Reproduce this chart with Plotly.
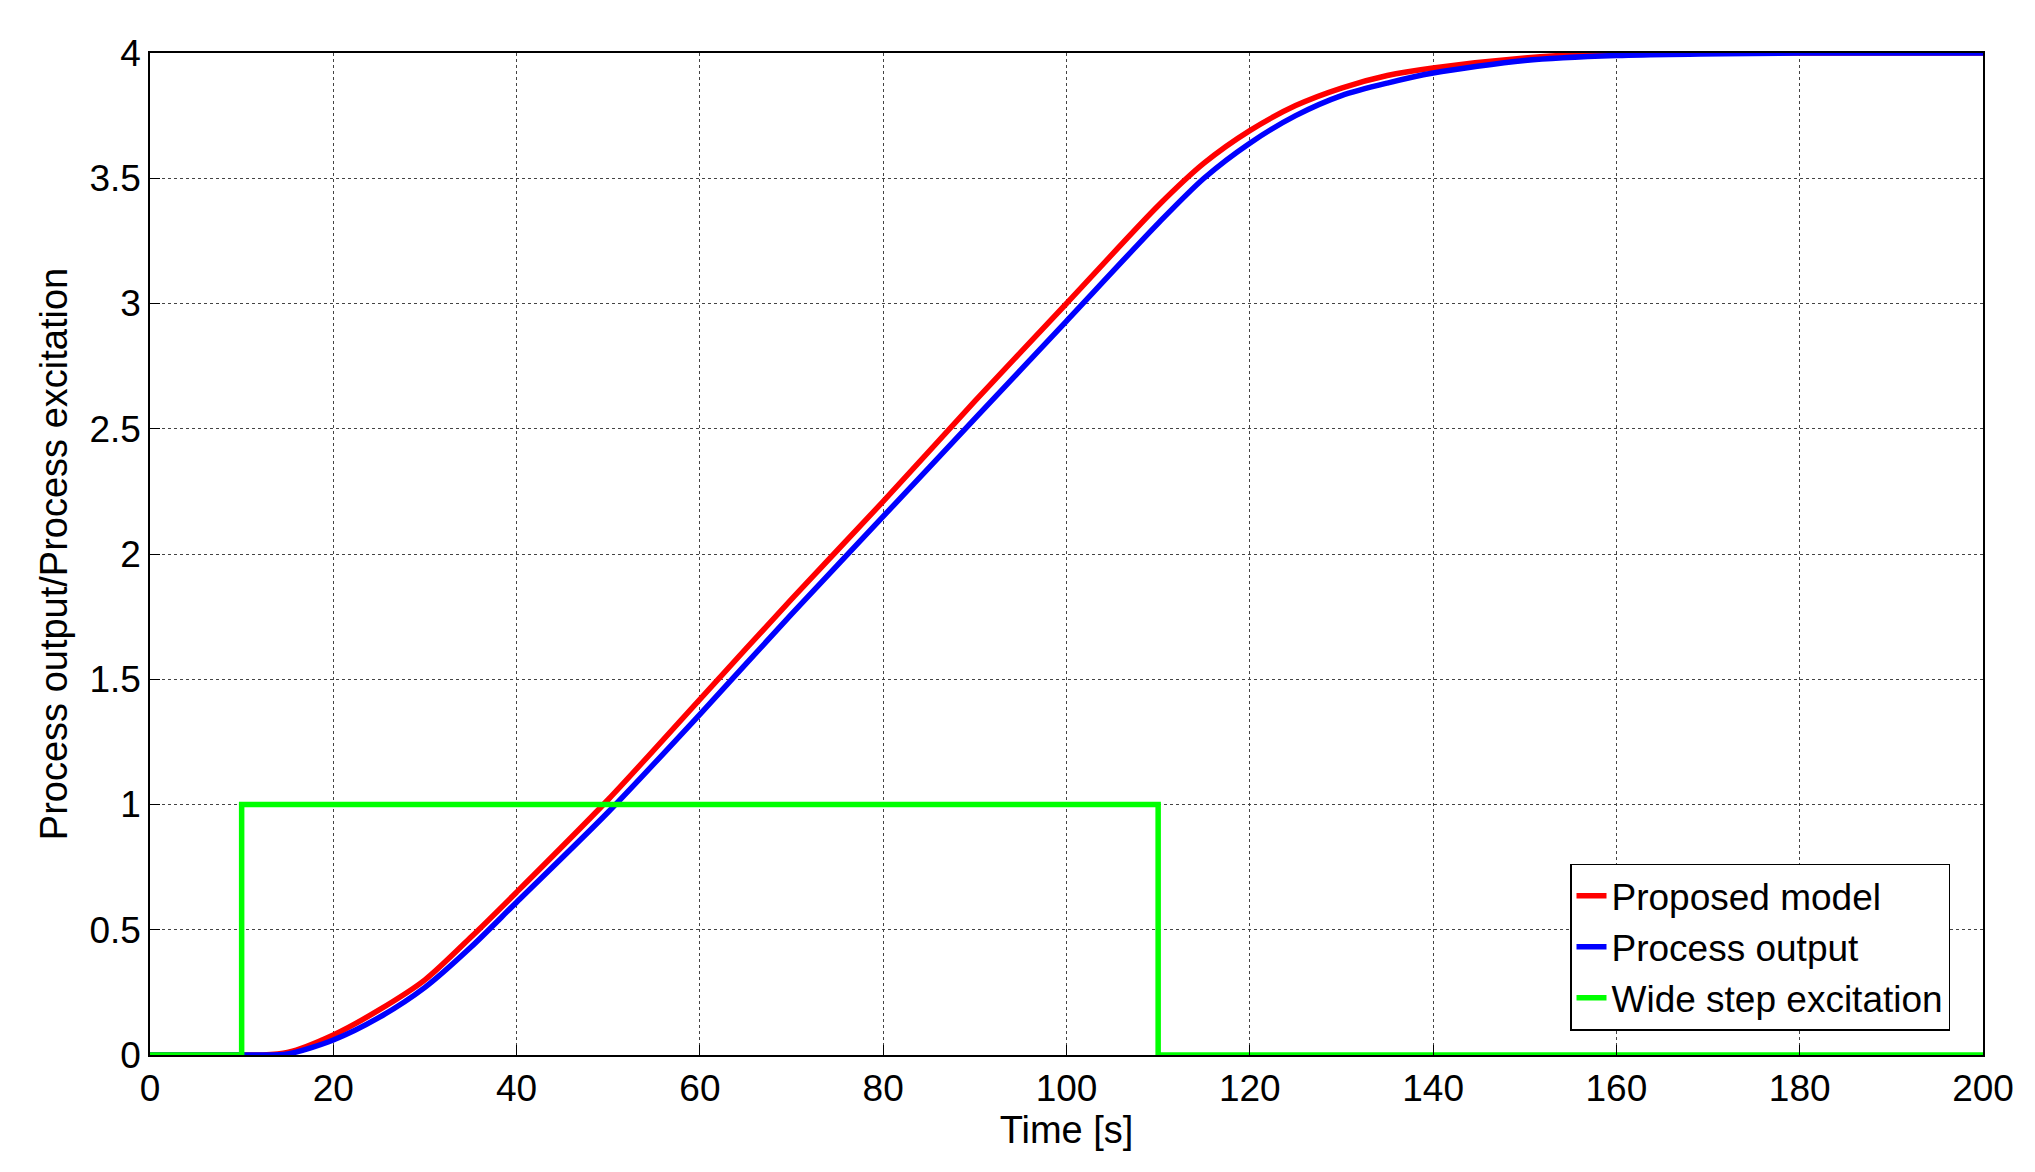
import plotly.graph_objects as go

t = [0, 10, 12, 15, 20, 25, 30, 35, 40, 50, 60, 70, 80, 90, 100, 110, 115, 120, 125, 130, 135, 140, 150, 160, 180, 200]
model = [0, 0, 0.0, 0.01, 0.08, 0.18, 0.30, 0.47, 0.65, 1.02, 1.42, 1.82, 2.21, 2.61, 3.00, 3.39, 3.56, 3.69, 3.79, 3.86, 3.91, 3.94, 3.98, 4.0, 4.0, 4.0]
process = [0, 0, 0.0, 0.004, 0.06, 0.15, 0.27, 0.43, 0.61, 0.97, 1.36, 1.76, 2.15, 2.54, 2.93, 3.32, 3.50, 3.64, 3.75, 3.83, 3.88, 3.92, 3.97, 3.99, 4.0, 4.0]
step_t = [0, 10, 10, 110, 110, 200]
step_v = [0, 0, 1, 1, 0, 0]

fig = go.Figure()
fig.add_trace(go.Scatter(x=t, y=model, mode="lines", name="Proposed model",
                         line=dict(color="#ff0000", width=5.5, shape="spline", smoothing=0.8)))
fig.add_trace(go.Scatter(x=t, y=process, mode="lines", name="Process output",
                         line=dict(color="#0000ff", width=5.5, shape="spline", smoothing=0.8)))
fig.add_trace(go.Scatter(x=step_t, y=step_v, mode="lines", name="Wide step excitation",
                         line=dict(color="#00ff00", width=5.5)))

axis = dict(showline=True, linecolor="black", linewidth=1.5, mirror=True, ticks="inside",
            ticklen=10, tickcolor="black", showgrid=True, gridcolor="#444",
            griddash="dot", gridwidth=1, zeroline=False,
            tickfont=dict(size=37, color="black"))
fig.update_layout(
    width=2035, height=1172, paper_bgcolor="white", plot_bgcolor="white",
    font=dict(family="Liberation Sans, Arial", color="black"),
    margin=dict(l=142, r=60, t=45, b=125),
    xaxis=dict(axis, range=[0, 200], dtick=20,
               title=dict(text="Time [s]", font=dict(size=38), standoff=2)),
    yaxis=dict(axis, range=[0, 4], dtick=0.5,
               title=dict(text="Process output/Process excitation", font=dict(size=38), standoff=10)),
    legend=dict(x=0.982, y=0.191, xanchor="right", yanchor="top",
                bordercolor="black", borderwidth=1.5, bgcolor="white",
                font=dict(size=37), tracegroupgap=0),
    showlegend=True,
)
fig.write_html("out.html")
